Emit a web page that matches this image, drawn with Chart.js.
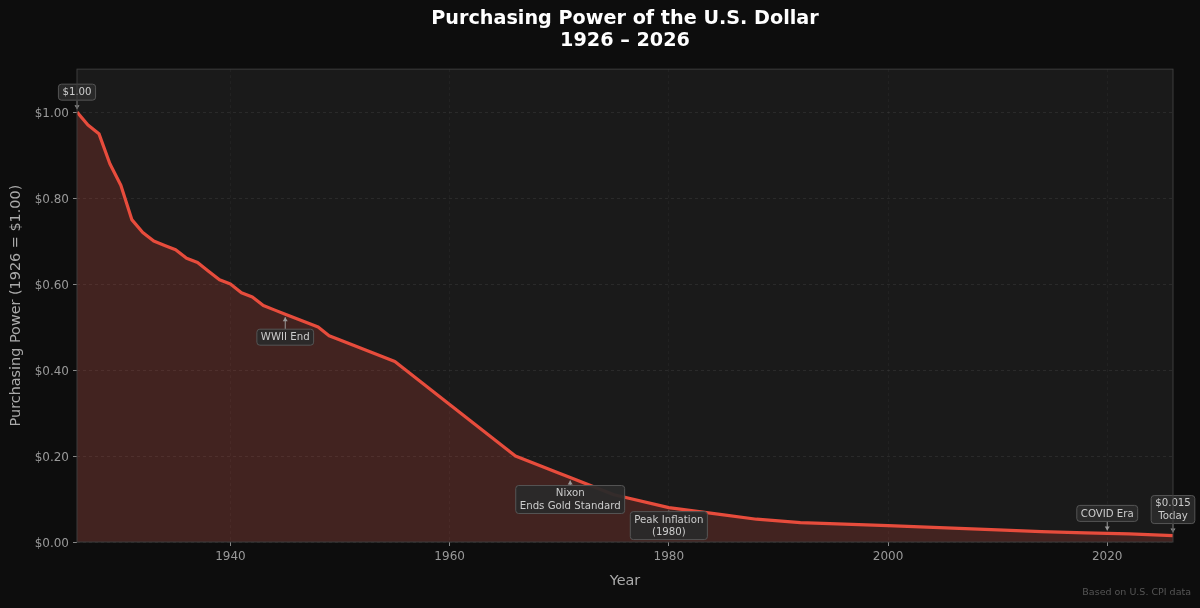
<!DOCTYPE html>
<html>
<head>
<meta charset="utf-8">
<title>Purchasing Power of the U.S. Dollar</title>
<script src="https://cdn.jsdelivr.net/npm/chart.js@4/dist/chart.umd.min.js"></script>
<style>
  html, body { margin: 0; padding: 0; background: #0d0d0d; }
  #wrap { width: 1200px; height: 608px; }
</style>
</head>
<body>
<div id="wrap"><canvas id="dollarChart" width="1200" height="608"></canvas></div>
<script>
const years = [1926, 1927, 1928, 1929, 1930, 1931, 1932, 1933, 1934, 1935, 1936, 1937, 1938, 1939,
  1940, 1941, 1942, 1943, 1944, 1945, 1946, 1947, 1948, 1949, 1950, 1955, 1960, 1966, 1970, 1971,
  1975, 1980, 1985, 1988, 1992, 2000, 2010, 2014, 2018, 2020, 2022, 2026];
const power = [1.00, 0.97, 0.95, 0.88, 0.83, 0.75, 0.72, 0.70, 0.69, 0.68, 0.66, 0.65, 0.63, 0.61,
  0.60, 0.58, 0.57, 0.55, 0.54, 0.53, 0.52, 0.51, 0.50, 0.48, 0.47, 0.42, 0.32, 0.20, 0.16, 0.15,
  0.11, 0.08, 0.063, 0.053, 0.045, 0.038, 0.028, 0.024, 0.021, 0.020, 0.019, 0.015];

const xTicks = [1940, 1960, 1980, 2000, 2020];
const yTicks = [0, 0.2, 0.4, 0.6, 0.8, 1.0];

const noteLabels = [['$1.00'], ['WWII End'], ['Nixon', 'Ends Gold Standard'], ['Peak Inflation', '(1980)'], ['COVID Era'], ['$0.015', 'Today']];
const noteYears = [1926, 1945, 1971, 1980, 2020, 2026];
const noteValues = [1.00, 0.53, 0.15, 0.08, 0.020, 0.015];
// label centre, in px from the marked point
const noteOffsets = [[0, -20], [0, 23], [0, 22], [0, 18], [0, -20], [0, -26]];

const FONT = '"DejaVu Sans", sans-serif';

// plot panel behind the data
const panelPlugin = {
  id: 'panel',
  beforeDraw(chart) {
    const { ctx, chartArea: a } = chart;
    ctx.save();
    ctx.fillStyle = '#0d0d0d';
    ctx.fillRect(0, 0, chart.width, chart.height);
    ctx.fillStyle = '#1a1a1a';
    ctx.fillRect(a.left, a.top, a.right - a.left, a.bottom - a.top);
    ctx.restore();
  },
  afterDraw(chart) {
    const { ctx, chartArea: a } = chart;
    ctx.save();
    ctx.strokeStyle = '#3d3d3d';
    ctx.lineWidth = 1;
    ctx.strokeRect(a.left, a.top, a.right - a.left, a.bottom - a.top);
    ctx.font = '9.5px ' + FONT;
    ctx.fillStyle = '#555555';
    ctx.textAlign = 'right';
    ctx.textBaseline = 'middle';
    ctx.fillText('Based on U.S. CPI data', 1191, 593);
    ctx.restore();
  }
};

// boxed notes with a small arrow to the point
const notesPlugin = {
  id: 'notes',
  afterDatasetsDraw(chart) {
    const { ctx, scales } = chart;
    ctx.save();
    ctx.font = '10.2px ' + FONT;
    ctx.textAlign = 'center';
    ctx.textBaseline = 'middle';
    noteLabels.forEach((lines, i) => {
      const px = scales.x.getPixelForValue(noteYears[i]);
      const py = scales.y.getPixelForValue(noteValues[i]);
      const cx = px + noteOffsets[i][0];
      const cy = py + noteOffsets[i][1];
      const w = Math.max(...lines.map(l => ctx.measureText(l).width)) + 8;
      const h = lines.length * 12 + 4;
      const dir = cy < py ? 1 : -1;
      const tipY = py - dir * 3;
      const startY = cy + dir * h / 2;

      ctx.strokeStyle = '#999999';
      ctx.fillStyle = '#999999';
      ctx.lineWidth = 1;
      ctx.beginPath();
      ctx.moveTo(px, startY);
      ctx.lineTo(px, tipY);
      ctx.stroke();
      ctx.beginPath();
      ctx.moveTo(px - 2.5, tipY - dir * 4);
      ctx.lineTo(px, tipY);
      ctx.lineTo(px + 2.5, tipY - dir * 4);
      ctx.closePath();
      ctx.fill();

      ctx.beginPath();
      ctx.roundRect(cx - w / 2, cy - h / 2, w, h, 3);
      ctx.fillStyle = 'rgba(42, 42, 42, 0.95)';
      ctx.fill();
      ctx.strokeStyle = '#555555';
      ctx.stroke();

      ctx.fillStyle = '#cccccc';
      lines.forEach((l, j) => {
        ctx.fillText(l, cx, cy + 0.5 + (j - (lines.length - 1) / 2) * 12.5);
      });
    });
    ctx.restore();
  }
};

function init() {
  Chart.defaults.font.family = FONT;
  new Chart(document.getElementById('dollarChart'), {
    type: 'line',
    data: {
      datasets: [{
        data: years.map((y, i) => ({ x: y, y: power[i] })),
        borderColor: '#e74c3c',
        borderWidth: 3.2,
        backgroundColor: 'rgba(231, 76, 60, 0.2)',
        fill: 'origin',
        pointRadius: 0,
        tension: 0,
        borderJoinStyle: 'round'
      }]
    },
    options: {
      responsive: false,
      animation: false,
      layout: { padding: { top: 0, right: 27, bottom: 0, left: 0 } },
      plugins: {
        legend: { display: false },
        tooltip: { enabled: false },
        title: {
          display: true,
          fullSize: false,
          text: ['Purchasing Power of the U.S. Dollar', '1926 – 2026'],
          color: '#ffffff',
          font: { size: 19.2, weight: 'bold', lineHeight: 1.15 },
          padding: { top: 8, bottom: 17 }
        }
      },
      scales: {
        x: {
          type: 'linear',
          min: 1926,
          max: 2026,
          afterBuildTicks: axis => { axis.ticks = xTicks.map(v => ({ value: v })); },
          afterFit: axis => { axis.height = 66; },
          ticks: {
            color: '#999999',
            font: { size: 12 },
            maxRotation: 0,
            padding: 4,
            callback: v => String(v)
          },
          grid: {
            color: 'rgba(255, 255, 255, 0.04)',
            tickColor: '#888888',
            tickLength: 4
          },
          border: { dash: [3, 3], display: false },
          title: { display: true, text: 'Year', color: '#aaaaaa', font: { size: 14.4 }, padding: { top: 9, bottom: 18 } }
        },
        y: {
          min: 0,
          max: 1.1,
          afterBuildTicks: axis => { axis.ticks = yTicks.map(v => ({ value: v })); },
          afterFit: axis => { axis.width = 77; },
          ticks: {
            color: '#999999',
            font: { size: 12 },
            padding: 4,
            labelOffset: 1.5,
            callback: v => '$' + Number(v).toFixed(2)
          },
          grid: {
            color: 'rgba(255, 255, 255, 0.07)',
            tickColor: '#888888',
            tickLength: 4
          },
          border: { dash: [3, 3], display: false },
          title: { display: true, text: 'Purchasing Power (1926 = $1.00)', color: '#aaaaaa', font: { size: 14.4 }, padding: { top: 8, bottom: 6 } }
        }
      }
    },
    plugins: [panelPlugin, notesPlugin]
  });
}

init();
</script>
</body>
</html>
